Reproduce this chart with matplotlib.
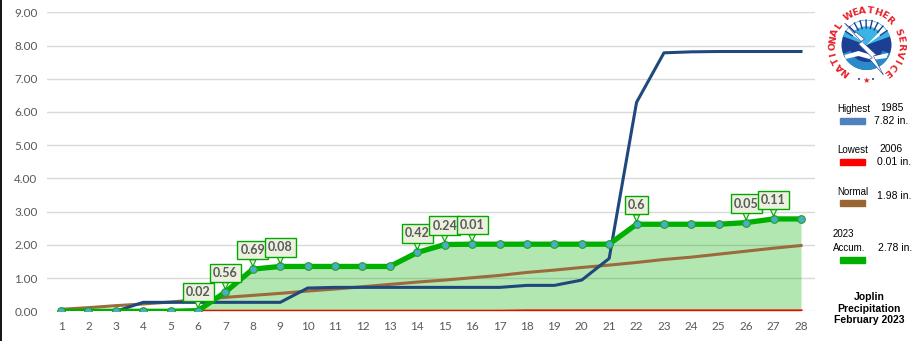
import numpy as np
import matplotlib
matplotlib.use("Agg")
import matplotlib.pyplot as plt
from matplotlib.patches import Rectangle, Circle, Wedge, Polygon

# ---- data ---------------------------------------------------------------
days = list(range(1, 29))

# daily rainfall 2023 (inches); zero-days omitted from labels
daily_2023 = [0, 0, 0, 0, 0, 0.02, 0.56, 0.69, 0.08, 0, 0, 0, 0, 0.42,
              0.24, 0.01, 0, 0, 0, 0, 0, 0.6, 0, 0, 0, 0.05, 0.11, 0]

highest_1985 = [0, 0, 0, 0.27, 0.27, 0.27, 0.27, 0.27, 0.27, 0.70, 0.72,
                0.72, 0.72, 0.72, 0.72, 0.72, 0.72, 0.78, 0.78, 0.94, 1.59,
                6.29, 7.78, 7.81, 7.82, 7.82, 7.82, 7.82]

lowest_2006 = [0] * 17 + [0.01] * 11

normal = [0.06, 0.11, 0.17, 0.22, 0.28, 0.35, 0.42, 0.48, 0.54, 0.61, 0.67,
          0.74, 0.81, 0.88, 0.94, 1.01, 1.08, 1.17, 1.24, 1.32, 1.39, 1.47,
          1.56, 1.63, 1.72, 1.81, 1.90, 1.98]

accum_2023 = np.cumsum(daily_2023)

legend_items = [
    ("Highest", "1985", "7.82 in.", "#4F81BD"),
    ("Lowest", "2006", "0.01 in.", "#FF0000"),
    ("Normal", "", "1.98 in.", "#996633"),
    ("2023\nAccum.", "", "2.78 in.", "#00B000"),
]
title_lines = "Joplin\nPrecipitation\nFebruary 2023"

# ---- figure -------------------------------------------------------------
W, H = 917, 341
fig = plt.figure(figsize=(W / 100, H / 100), dpi=100)
fig.patch.set_facecolor("white")


def fx(x):
    return x / W


def fy(y):
    return 1 - y / H


ax = fig.add_axes([fx(47.3), fy(311.3), (814.7 - 47.3) / W, (311.3 - 12.3) / H])
ax.set_xlim(0.5, 28.5)
ax.set_ylim(0, 9)

GREEN = "#00B000"
ax.fill_between(days, accum_2023, 0, color=GREEN, alpha=0.3, lw=0, zorder=2)
ax.plot(days, lowest_2006, color="#FF0000", lw=2.3, zorder=3)
ax.plot(days, normal, color="#9C6A3C", lw=2.2, zorder=4)
ax.plot(days, highest_1985, color="#1F497D", lw=2.2, zorder=5)
ax.plot(days, accum_2023, color=GREEN, lw=3.8, zorder=6,
        marker="o", markersize=5.5, markerfacecolor="#4BACC6",
        markeredgecolor="#1BA51B", markeredgewidth=0.8)

# callouts with each day's rainfall
for d, amt, tot in zip(days, daily_2023, accum_2023):
    if amt <= 0:
        continue
    ax.annotate(f"{amt:g}", xy=(d, tot), xytext=(0, 19),
                textcoords="offset pixels", ha="center", va="center",
                fontsize=9, fontweight="bold", color="#595959",
                family="Lato", zorder=8,
                bbox=dict(boxstyle="square,pad=0.25", fc="#EBF1DE",
                          ec="#00A800", lw=1.0),
                arrowprops=dict(arrowstyle="wedge,tail_width=0.5,shrink_factor=0.5",
                                fc="#EBF1DE", ec="#00A800", lw=0.8,
                                shrinkA=0, shrinkB=2))

ax.set_xticks(days)
ax.set_yticks(np.arange(0, 10, 1))
ax.yaxis.set_major_formatter(matplotlib.ticker.FormatStrFormatter("%.2f"))
ax.tick_params(length=0, labelsize=8.5, labelcolor="#595959", pad=7)
for lab in ax.get_xticklabels() + ax.get_yticklabels():
    lab.set_family("Lato")
ax.grid(axis="y", color="#D9D9D9", lw=1, zorder=0)
ax.set_axisbelow(True)
for s in ax.spines.values():
    s.set_visible(False)

# left frame edge
fig.add_artist(matplotlib.lines.Line2D([fx(0.8), fx(0.8)], [0, 1],
                                       color="black", lw=1.3))

# ---- legend -------------------------------------------------------------
lg = dict(family="Liberation Sans", color="black")
SMALL, BIG = 7, 7.5


def swatch(y_top, color):
    fig.add_artist(Rectangle((fx(840), fy(y_top + 6)), 25 / W, 6 / H,
                             color=color, transform=fig.transFigure))


# Highest
fig.text(fx(837), fy(109), legend_items[0][0], fontsize=SMALL, va="center", **lg)
fig.text(fx(880), fy(108.5), legend_items[0][1], fontsize=BIG, va="center", **lg)
swatch(118, legend_items[0][3])
fig.text(fx(874), fy(121), legend_items[0][2], fontsize=BIG, va="center", **lg)
# Lowest
fig.text(fx(837), fy(149.5), legend_items[1][0], fontsize=SMALL, va="center", **lg)
fig.text(fx(879), fy(149), legend_items[1][1], fontsize=BIG, va="center", **lg)
swatch(159, legend_items[1][3])
fig.text(fx(877), fy(162), legend_items[1][2], fontsize=BIG, va="center", **lg)
# Normal
fig.text(fx(837), fy(192), legend_items[2][0], fontsize=SMALL, va="center", **lg)
swatch(200, legend_items[2][3])
fig.text(fx(877), fy(196), legend_items[2][2], fontsize=BIG, va="center", **lg)
# 2023 accumulation
fig.text(fx(833), fy(241), legend_items[3][0], fontsize=SMALL, va="center",
         linespacing=1.55, **lg)
swatch(257, legend_items[3][3])
fig.text(fx(878), fy(248), legend_items[3][2], fontsize=BIG, va="center", **lg)
# title block
fig.text(fx(869), fy(308.5), title_lines, fontsize=7.5, fontweight="bold",
         ha="center", va="center", linespacing=1.2, **lg)

# ---- NWS emblem ---------------------------------------------------------
lax = fig.add_axes([fx(820), fy(95), 97 / W, 95 / H])
lax.set_xlim(820, 917)
lax.set_ylim(95, 0)
lax.axis("off")
cx, cy, r = 866.5, 45, 25
lax.add_patch(Circle((cx, cy), r, fc="#1D3F93", ec="none"))
# upper light band with rays
lax.add_patch(Wedge((cx, cy), r, 20, 160, width=8, fc="#2B8ACB", ec="none"))
for a in np.arange(35, 150, 14):
    t = np.deg2rad(a)
    lax.plot([cx + 17 * np.cos(t), cx + 25 * np.cos(t)],
             [cy - 17 * np.sin(t), cy - 25 * np.sin(t)],
             color="#1D3F93", lw=1.0)
# waves at the bottom
lax.add_patch(Wedge((cx, cy), r, 200, 340, fc="#3BB4E5", ec="none"))
lax.add_patch(Wedge((cx, cy), r * 0.98, 215, 325, fc="white", ec="none"))
lax.add_patch(Wedge((cx, cy), r * 0.75, 225, 315, fc="#3BB4E5", ec="none"))
lax.add_patch(Polygon([(cx - 22, cy + 10), (cx - 8, cy + 6), (cx + 8, cy + 11),
                       (cx + 22, cy + 8), (cx + 20, cy + 13), (cx + 6, cy + 15),
                       (cx - 8, cy + 11), (cx - 21, cy + 14)],
                      fc="white", ec="none"))
# lightning bolt
lax.add_patch(Polygon([(cx - 22, cy - 22), (cx - 2, cy - 6), (cx - 5, cy - 4),
                       (cx + 10, cy + 10), (cx + 7, cy + 11), (cx + 17, cy + 30),
                       (cx + 3, cy + 14), (cx + 6, cy + 13), (cx - 8, cy - 1),
                       (cx - 5, cy - 3)],
                      fc="white", ec="#1D3F93", lw=0.4))
# lettering around the rim
name = "NATIONAL WEATHER SERVICE"
angles = np.linspace(232, -52, len(name))
for ch, a in zip(name, angles):
    if ch == " ":
        continue
    t = np.deg2rad(a)
    lax.text(cx + 34 * np.cos(t), cy - 34 * np.sin(t), ch, color="#E8202A",
             fontsize=6.8, fontweight="heavy", family="DejaVu Sans",
             ha="center", va="center", rotation=a - 90)
lax.text(cx - 7, cy + 35, "•", color="#1D3F93", fontsize=5, ha="center", va="center")
lax.text(cx, cy + 35, "★", color="#E8202A", fontsize=6, ha="center", va="center")
lax.text(cx + 7, cy + 35, "•", color="#1D3F93", fontsize=5, ha="center", va="center")

fig.savefig("out.png", dpi=100, facecolor="white")
